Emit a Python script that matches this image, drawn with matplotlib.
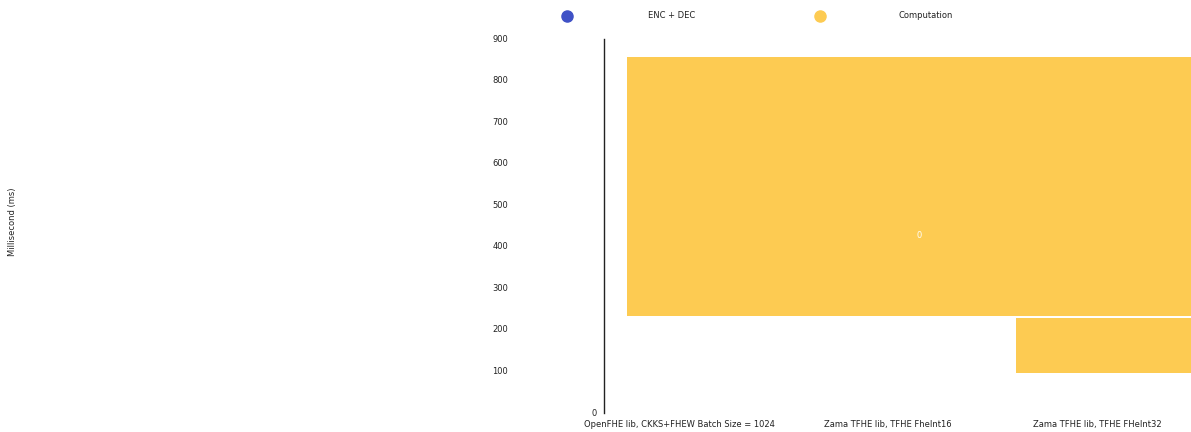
import matplotlib.pyplot as plt
from matplotlib.lines import Line2D
from matplotlib.transforms import blended_transform_factory, offset_copy

# data
categories = ["OpenFHE lib, CKKS+FHEW Batch Size = 1024",
              "Zama TFHE lib, TFHE FheInt16",
              "Zama TFHE lib, TFHE FHeInt32"]
series = ["ENC + DEC", "Computation"]
comp_bottoms = [233, 97]
comp_tops = [857, 229]
value_label = "0"
yticks = [0, 100, 200, 300, 400, 500, 600, 700, 800, 900]

blue = "#3f51c6"
yellow = "#fdcb52"
txt = "#222222"
fs = 6.0

fig = plt.figure(figsize=(11.91, 4.32), dpi=100)
ax = fig.add_axes([604 / 1191, 1 - 413 / 432, 1 - 604 / 1191, (413 - 39) / 432])

# bar spans in category units (layout only)
x_left = [-0.25, 1.61]
x_right = 2.6
for i in range(len(comp_tops)):
    ax.bar(x_left[i], comp_tops[i] - comp_bottoms[i], bottom=comp_bottoms[i],
           width=x_right - x_left[i], align="edge", color=yellow, linewidth=0)

ax.text(1.15, 428, value_label, color="white", fontsize=fs, ha="center", va="center")

ax.set_xlim(-0.36, 2.45)
ax.set_ylim(0, 900)
ax.set_yticks(yticks)
ax.set_yticklabels([])
ax.set_xticks(range(len(categories)))
ax.set_xticklabels(categories)
ax.tick_params(axis="both", length=0, labelsize=fs, colors=txt)
ax.tick_params(axis="x", pad=5)
for s in ["top", "right", "bottom"]:
    ax.spines[s].set_visible(False)
ax.spines["left"].set_linewidth(1.0)
ax.spines["left"].set_color(txt)

# y tick labels: the zero sits by the axis, the others further out
trans = blended_transform_factory(ax.transAxes, ax.transData)
for v in yticks:
    dx = -7 if v == 0 else -96
    ax.text(0, v, str(v), ha="right", va="center", fontsize=fs, color=txt,
            transform=offset_copy(trans, fig=fig, x=dx, y=0, units="dots"))

fig.text(13 / 1191, 1 - 222 / 432, "Millisecond (ms)", rotation=90,
         ha="center", va="center", fontsize=fs, color=txt)

# legend
for color, xd, label, xt in [(blue, 567, series[0], 672), (yellow, 820, series[1], 926)]:
    fig.add_artist(Line2D([xd / 1191], [1 - 16 / 432], marker="o", markersize=8,
                          color=color, linestyle="none", transform=fig.transFigure))
    fig.text(xt / 1191, 1 - 16 / 432, label, ha="center", va="center",
             fontsize=fs, color=txt)

fig.savefig("out.png", dpi=100)
